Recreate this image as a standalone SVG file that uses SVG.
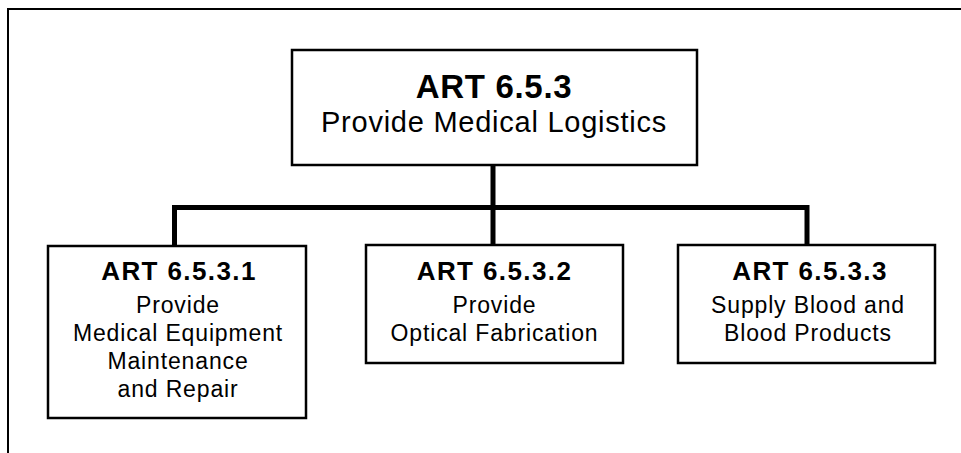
<svg xmlns="http://www.w3.org/2000/svg" width="961" height="453" viewBox="0 0 961 453">
<style>
.box{fill:#fff;stroke:#000;stroke-width:2.5}
.frame{fill:none;stroke:#000;stroke-width:2}
.conn{fill:none;stroke:#000;stroke-width:5;stroke-linejoin:miter;stroke-linecap:butt}
text{font-family:"Liberation Sans",Arial,Helvetica,sans-serif;fill:#000;text-anchor:middle}
.t1{font-size:33px;font-weight:bold;letter-spacing:0.7px}
.s1{font-size:29px;letter-spacing:0.75px}
.t2{font-size:26px;font-weight:bold;letter-spacing:1.4px}
.s2{font-size:23px;letter-spacing:0.85px}
</style>
<rect width="961" height="453" fill="#fff"/>
<path class="frame" d="M8,453 V9 H961"/>
<g id="connectors">
<path class="conn" d="M493,166 V245"/>
<path class="conn" d="M174.5,246 V207.5 H807 V245"/>
</g>
<g id="node-root">
<rect class="box" x="292" y="50" width="405" height="115"/>
<text class="t1" x="494" y="98">ART 6.5.3</text>
<text class="s1" x="494" y="132">Provide Medical Logistics</text>
</g>
<g id="node-1">
<rect class="box" x="48" y="246" width="258" height="172"/>
<text class="t2" x="179" y="280">ART 6.5.3.1</text>
<text class="s2" x="178" y="313">Provide</text>
<text class="s2" x="178" y="341">Medical Equipment</text>
<text class="s2" x="178" y="369">Maintenance</text>
<text class="s2" x="178" y="397">and Repair</text>
</g>
<g id="node-2">
<rect class="box" x="366" y="245" width="257" height="118"/>
<text class="t2" x="494.5" y="280">ART 6.5.3.2</text>
<text class="s2" x="494.5" y="313">Provide</text>
<text class="s2" x="494.5" y="341">Optical Fabrication</text>
</g>
<g id="node-3">
<rect class="box" x="678" y="245" width="257" height="118"/>
<text class="t2" x="810" y="280">ART 6.5.3.3</text>
<text class="s2" x="808" y="313">Supply Blood and</text>
<text class="s2" x="808" y="341">Blood Products</text>
</g>
</svg>
